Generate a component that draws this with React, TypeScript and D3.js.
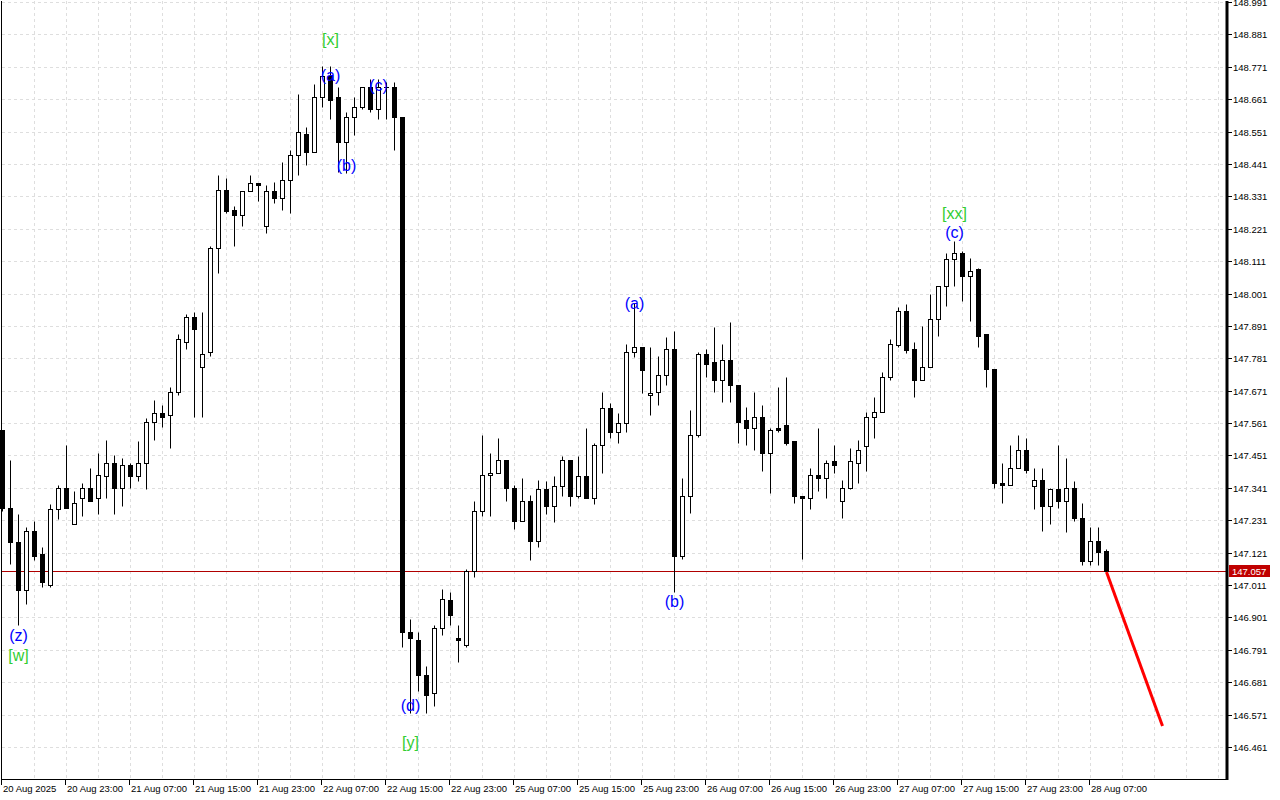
import React from 'react';
import * as d3 from 'd3';

// ---- data (H1 candles) ----
const opens = [147.536,147.274,147.156,146.993,147.193,147.115,147.010,147.268,147.342,147.220,
147.305,147.342,147.305,147.383,147.424,147.342,147.417,147.380,147.427,147.563,
147.594,147.587,147.668,147.835,147.920,147.753,147.801,148.154,148.351,148.283,
148.269,148.348,148.378,148.229,148.348,148.327,148.385,148.473,148.544,148.480,
148.670,148.741,148.670,148.514,148.602,148.633,148.704,148.629,148.704,148.701,
148.599,146.853,146.826,146.707,146.646,146.864,146.959,146.830,146.806,147.057,
147.264,147.386,147.393,147.434,147.339,147.227,147.298,147.162,147.336,147.281,
147.346,147.437,147.315,147.380,147.305,147.488,147.611,147.532,147.560,147.804,
147.818,147.655,147.665,147.726,147.811,147.108,147.315,147.519,147.794,147.767,
147.709,147.774,147.692,147.570,147.546,147.583,147.458,147.543,147.556,147.499,
147.315,147.305,147.386,147.376,147.431,147.298,147.339,147.427,147.482,147.580,
147.597,147.719,147.825,147.940,147.814,147.706,147.753,147.913,148.028,148.117,
148.140,148.062,148.083,147.862,147.743,147.359,147.352,147.407,147.471,147.346,
147.369,147.278,147.336,147.295,147.339,147.237,147.091,147.159,147.125];
const highs = [147.539,147.437,147.251,147.207,147.230,147.139,147.285,147.352,147.488,147.329,
147.359,147.410,147.461,147.505,147.451,147.444,147.424,147.499,147.577,147.638,
147.624,147.682,147.862,147.930,147.937,147.937,148.161,148.402,148.395,148.297,
148.348,148.405,148.378,148.371,148.381,148.449,148.490,148.680,148.565,148.714,
148.772,148.772,148.704,148.616,148.670,148.704,148.731,148.731,148.718,148.718,
148.599,146.894,146.850,146.735,146.874,146.999,146.986,146.874,147.064,147.298,
147.522,147.458,147.512,147.434,147.352,147.373,147.318,147.369,147.366,147.380,
147.448,147.437,147.448,147.543,147.495,147.668,147.628,147.594,147.828,147.970,
147.821,147.821,147.790,147.852,147.875,147.376,147.607,147.804,147.811,147.886,
147.828,147.903,147.692,147.617,147.665,147.621,147.546,147.682,147.719,147.499,
147.315,147.407,147.543,147.437,147.488,147.369,147.475,147.505,147.597,147.648,
147.733,147.848,147.954,147.967,147.835,147.892,147.998,148.028,148.140,148.181,
148.144,148.123,148.089,147.862,147.743,147.427,147.488,147.519,147.512,147.407,
147.410,147.342,147.485,147.444,147.363,147.288,147.207,147.207,147.132];
const lows = [147.261,147.084,146.874,146.945,147.095,147.006,147.003,147.234,147.274,147.220,
147.247,147.295,147.251,147.308,147.251,147.281,147.339,147.363,147.336,147.505,
147.549,147.478,147.658,147.811,147.583,147.583,147.790,148.072,148.273,148.161,
148.229,148.348,148.314,148.205,148.310,148.286,148.276,148.405,148.436,148.480,
148.636,148.592,148.412,148.409,148.541,148.626,148.616,148.595,148.595,148.490,
146.799,146.575,146.650,146.578,146.599,146.840,146.877,146.748,146.802,147.040,
147.244,147.247,147.393,147.298,147.203,147.227,147.095,147.139,147.251,147.224,
147.315,147.281,147.305,147.305,147.285,147.393,147.512,147.495,147.532,147.784,
147.662,147.587,147.621,147.689,146.986,147.098,147.254,147.515,147.719,147.668,
147.634,147.634,147.492,147.485,147.468,147.397,147.325,147.532,147.485,147.291,
147.098,147.268,147.332,147.305,147.393,147.240,147.336,147.359,147.397,147.512,
147.597,147.709,147.821,147.800,147.648,147.706,147.753,147.858,147.957,148.025,
147.977,147.909,147.821,147.685,147.339,147.291,147.352,147.407,147.393,147.268,
147.193,147.220,147.271,147.190,147.230,147.078,147.078,147.078,147.057];
const closes = [147.274,147.156,146.993,147.193,147.111,147.020,147.268,147.339,147.274,147.291,
147.339,147.298,147.386,147.424,147.342,147.417,147.380,147.424,147.563,147.594,
147.583,147.668,147.845,147.920,147.879,147.797,148.154,148.354,148.280,148.269,
148.348,148.378,148.368,148.348,148.327,148.385,148.470,148.548,148.480,148.670,
148.741,148.657,148.514,148.599,148.633,148.704,148.629,148.704,148.701,148.602,
146.853,146.830,146.704,146.639,146.864,146.962,146.908,146.823,147.057,147.264,
147.386,147.393,147.437,147.339,147.227,147.298,147.162,147.336,147.281,147.346,
147.437,147.315,147.380,147.305,147.488,147.611,147.532,147.560,147.804,147.818,
147.740,147.662,147.726,147.814,147.108,147.315,147.519,147.794,147.763,147.706,
147.774,147.689,147.566,147.546,147.583,147.458,147.539,147.539,147.495,147.312,
147.305,147.386,147.373,147.427,147.417,147.339,147.431,147.471,147.580,147.597,
147.719,147.828,147.940,147.808,147.706,147.753,147.913,148.028,148.117,148.140,
148.062,148.079,147.858,147.746,147.356,147.352,147.407,147.471,147.400,147.369,
147.278,147.336,147.295,147.339,147.237,147.091,147.159,147.122,147.057];

const priceTicks = [146.461,146.571,146.681,146.791,146.901,147.011,147.121,147.231,147.341,147.451,
147.561,147.671,147.781,147.891,148.001,148.111,148.221,148.331,148.441,148.551,148.661,148.771,148.881,148.991];

const timeLabels = ['20 Aug 2025','20 Aug 23:00','21 Aug 07:00','21 Aug 15:00','21 Aug 23:00','22 Aug 07:00',
'22 Aug 15:00','22 Aug 23:00','25 Aug 07:00','25 Aug 15:00','25 Aug 23:00','26 Aug 07:00','26 Aug 15:00',
'26 Aug 23:00','27 Aug 07:00','27 Aug 15:00','27 Aug 23:00','28 Aug 07:00'];
const barsPerLabel = 8;
const barsPerGrid = 4;

const lastPrice = 147.057;
const projBars = [138, 145];
const projPrices = [147.057, 146.534];

const waveTexts = ['(z)','[w]','[x]','(a)','(b)','(c)','(d)','[y]','(a)','(b)','[xx]','(c)'];
const waveBars = [2,2,41,41,43,47,51,51,79,84,119,119];
const wavePrices = [146.843,146.775,148.867,148.744,148.439,148.710,146.605,146.479,147.970,146.958,148.276,148.211];
const waveColors = ['#0000ff','#32cd32','#32cd32','#0000ff','#0000ff','#0000ff','#0000ff','#32cd32','#0000ff','#0000ff','#32cd32','#0000ff'];

const PLOT_LEFT = 2;
const PLOT_RIGHT = 1227;
const PLOT_BOTTOM = 779;
const AXIS_FONT = '"Liberation Sans", Arial, sans-serif';

export default function App() {
  const x = d3.scaleLinear().domain([0, 153]).range([2.5, 1226.5]);
  const y = d3.scaleLinear().domain([146.461, 148.991]).range([747.5, 2.5]);
  const snap = (v: number) => Math.round(v - 0.5) + 0.5;

  const gridBars = d3.range(barsPerGrid, 153, barsPerGrid);
  const proj = d3.line<number>().x((_, i) => x(projBars[i])).y((d) => y(d));

  return (
    <svg width={1280} height={800} style={{ position: 'absolute', left: 0, top: 0, background: '#fff' }}>
      <rect x={0} y={0} width={1280} height={800} fill="#fff" />
      {/* grid */}
      <g stroke="#dedede" strokeWidth={1} strokeDasharray="3,3">
        {priceTicks.map((p) => (
          <line key={'h' + p} x1={PLOT_LEFT} x2={PLOT_RIGHT} y1={snap(y(p))} y2={snap(y(p))} />
        ))}
        {gridBars.map((b) => (
          <line key={'v' + b} x1={x(b)} x2={x(b)} y1={1} y2={PLOT_BOTTOM} />
        ))}
      </g>
      {/* current price line */}
      <line x1={PLOT_LEFT} x2={PLOT_RIGHT} y1={snap(y(lastPrice))} y2={snap(y(lastPrice))} stroke="#b00000" strokeWidth={1} />
      {/* candles */}
      <g>
        {opens.map((o, i) => {
          const c = closes[i];
          const cx = x(i);
          const top = snap(y(Math.max(o, c)));
          const bot = snap(y(Math.min(o, c)));
          const bull = c > o;
          return (
            <g key={i}>
              <line x1={cx} x2={cx} y1={snap(y(highs[i]))} y2={snap(y(lows[i]))} stroke="#000" strokeWidth={1} />
              {bot - top < 1 ? (
                <line x1={cx - 2.5} x2={cx + 2.5} y1={top} y2={top} stroke="#000" strokeWidth={1} />
              ) : (
                <rect x={cx - 2} y={top} width={4} height={bot - top} fill={bull ? '#fff' : '#000'} stroke="#000" strokeWidth={1} />
              )}
            </g>
          );
        })}
      </g>
      {/* projection */}
      <path d={proj(projPrices) || ''} stroke="#ff0000" strokeWidth={3} fill="none" />
      {/* wave labels */}
      <g fontFamily={AXIS_FONT} fontSize={16} textAnchor="middle">
        {waveTexts.map((t, i) => (
          <text key={'w' + i} x={x(waveBars[i])} y={y(wavePrices[i]) + 6} fill={waveColors[i]}>{t}</text>
        ))}
      </g>
      {/* frame */}
      <line x1={1.5} x2={1.5} y1={1} y2={PLOT_BOTTOM} stroke="#000" />
      <line x1={1} x2={PLOT_RIGHT} y1={PLOT_BOTTOM + 0.5} y2={PLOT_BOTTOM + 0.5} stroke="#000" />
      <line x1={PLOT_RIGHT} x2={PLOT_RIGHT} y1={1} y2={PLOT_BOTTOM + 1} stroke="#000" strokeWidth={3} />
      {/* price axis */}
      <g fontFamily={AXIS_FONT} fontSize={9.5} fill="#000">
        {priceTicks.map((p) => (
          <g key={'t' + p}>
            <line x1={PLOT_RIGHT} x2={PLOT_RIGHT + 5} y1={snap(y(p))} y2={snap(y(p))} stroke="#000" />
            <text x={1233} y={y(p) + 3.5}>{p.toFixed(3)}</text>
          </g>
        ))}
        <rect x={1229} y={snap(y(lastPrice)) - 6.5} width={41} height={12} fill="#c00000" />
        <text x={1232} y={y(lastPrice) + 3.5} fill="#fff">{lastPrice.toFixed(3)}</text>
      </g>
      {/* time axis */}
      <g fontFamily={AXIS_FONT} fontSize={9.5} fill="#000">
        {timeLabels.map((t, k) => {
          const xx = Math.floor(x(k * barsPerLabel)) - 0.5;
          return (
            <g key={'x' + k}>
              <line x1={xx} x2={xx} y1={PLOT_BOTTOM} y2={PLOT_BOTTOM + 6} stroke="#000" />
              <text x={xx + 1.5} y={792}>{t}</text>
            </g>
          );
        })}
      </g>
    </svg>
  );
}
